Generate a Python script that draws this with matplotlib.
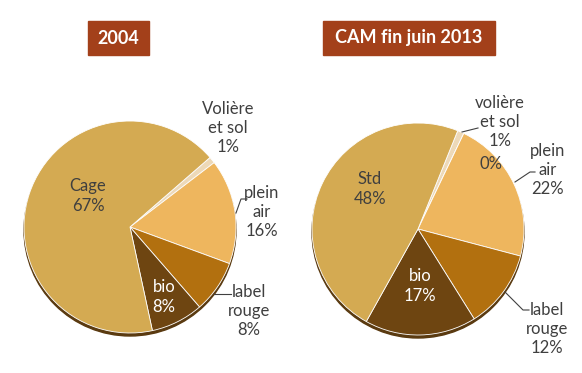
import matplotlib
matplotlib.use("Agg")
import matplotlib.pyplot as plt
from matplotlib.patches import Ellipse, Rectangle

# ---- data ----
left_title = "2004"
left_cats = ["Volière et sol", "plein air", "label rouge", "bio", "Cage"]
left_vals = [1, 16, 8, 8, 67]

right_title = "CAM fin juin 2013"
right_cats = ["volière et sol", "", "plein air", "label rouge", "bio", "Std"]
right_vals = [1, 0, 22, 12, 17, 48]

colors_left = ["#EDD9B8", "#EEB65E", "#B2700F", "#6E4511", "#D4AA52"]
colors_right = ["#EDD9B8", "#EDD9B8", "#EEB65E", "#B2700F", "#6E4511", "#D4AA52"]

W, H = 582, 373
fig = plt.figure(figsize=(W / 100, H / 100), dpi=100)
ax = fig.add_axes([0, 0, 1, 1])
ax.set_xlim(0, W)
ax.set_ylim(0, H)
ax.set_aspect("equal")
ax.axis("off")

FONT = ["Lato", "DejaVu Sans"]
TXT = "#3F3F3F"


def Y(y):
    return H - y


def draw_pie(cx, cy, r, vals, cols, start):
    # bottom rim (3D-like shadow)
    ax.add_patch(Ellipse((cx, Y(cy) - 3), 2 * r, 2 * r, color="#5A3A10", zorder=1))
    ax.pie(vals, colors=cols, startangle=start, counterclock=False,
           center=(cx, Y(cy)), radius=r, frame=True,
           wedgeprops=dict(linewidth=0.6, edgecolor="white", zorder=2))


def title_box(x0, x1, y0, y1, text):
    ax.add_patch(Rectangle((x0, Y(y1)), x1 - x0, y1 - y0, color="#A3401A", zorder=3))
    ax.text((x0 + x1) / 2, Y((y0 + y1) / 2), text, color="white", fontsize=13,
            fontweight="bold", ha="center", va="center", family=FONT, zorder=4)


def label(x, y, s, color=TXT):
    ax.text(x, Y(y), s, ha="center", va="center", fontsize=12, color=color,
            family=FONT, linespacing=1.25, zorder=5)


def leader(pts):
    xs = [p[0] for p in pts]
    ys = [Y(p[1]) for p in pts]
    ax.plot(xs, ys, color="#404040", lw=0.8, zorder=5)


# left pie
draw_pie(130, 227, 106, left_vals, colors_left, 41)
title_box(88, 149, 21, 55, left_title)
label(88, 196, "Cage\n67%")
label(228, 128, "Volière\net sol\n1%")
label(262, 212, "plein\nair\n16%")
label(164, 297, "bio\n8%", color="white")
label(249, 311, "label\nrouge\n8%")
leader([(236, 213), (241, 199), (247, 199)])
leader([(214, 294), (231, 294)])

# right pie
draw_pie(418, 229, 106, right_vals, colors_right, 68)
title_box(323, 495, 21, 55, right_title)
label(370, 189, "Std\n48%")
label(500, 122, "volière\net sol\n1%")
label(491, 164, "0%")
label(548, 170, "plein\nair\n22%")
label(420, 286, "bio\n17%", color="white")
label(547, 329, "label\nrouge\n12%")
leader([(462, 132), (478, 128)])
leader([(515, 182), (530, 172), (535, 172)])
leader([(505, 292), (523, 310), (529, 310)])

ax.set_xlim(0, W)
ax.set_ylim(0, H)
fig.savefig("out.png", dpi=100, facecolor="white")
